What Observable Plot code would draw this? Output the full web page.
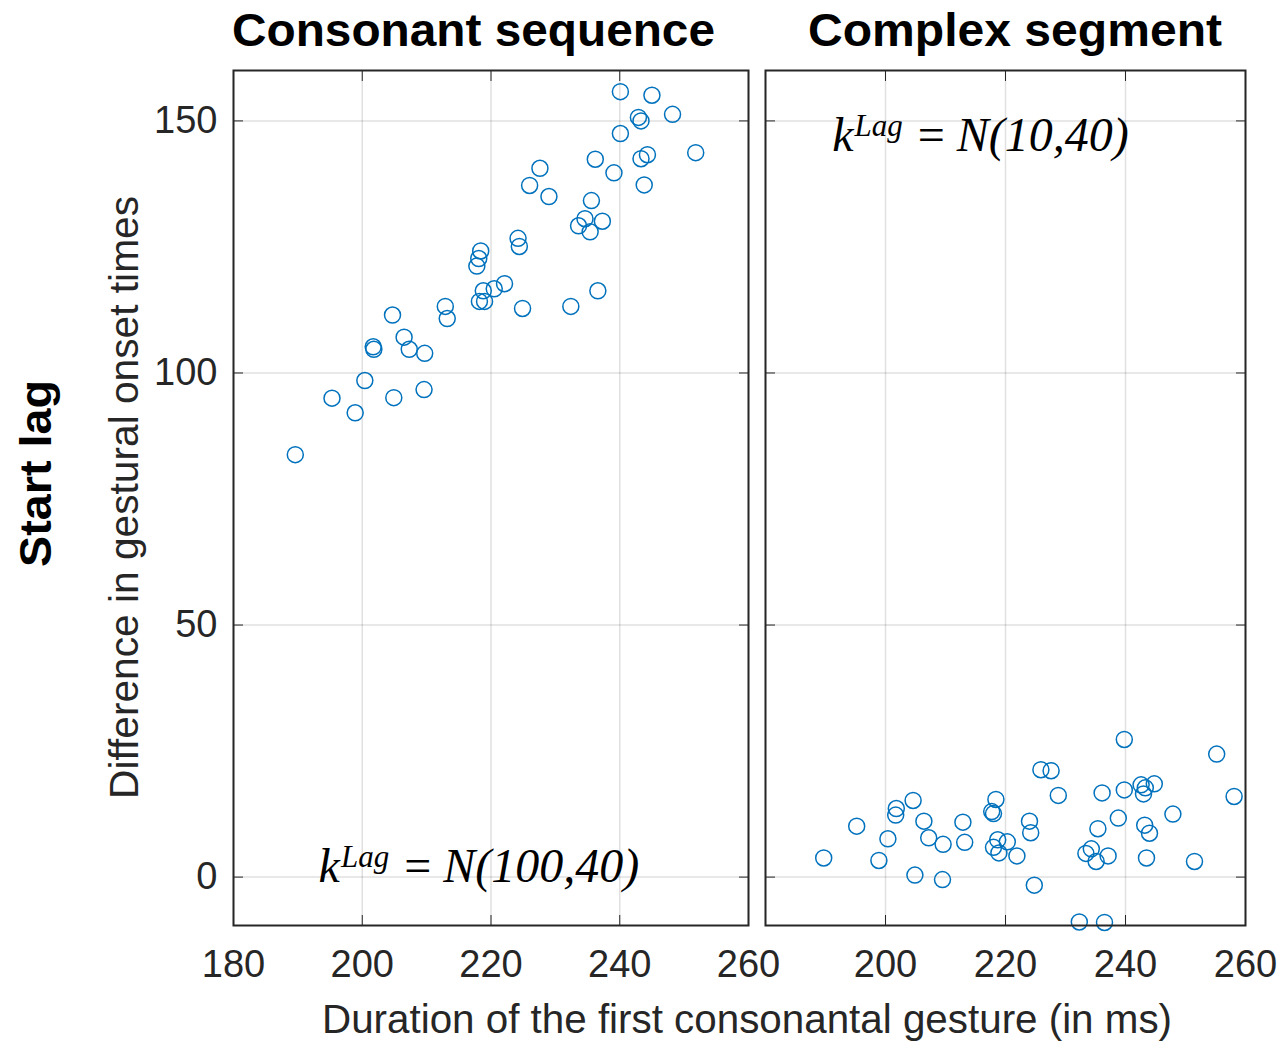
<!DOCTYPE html>
<html>
<head>
<meta charset="utf-8">
<script src="https://cdn.jsdelivr.net/npm/d3@7"></script>
<script src="https://cdn.jsdelivr.net/npm/@observablehq/plot@0.6"></script>
<style>
  body { margin: 0; background: #fff; }
  #wrap { position: relative; width: 1283px; height: 1045px; overflow: hidden; background: #fff; }
  #wrap > svg { position: absolute; }
</style>
</head>
<body>
<div id="wrap"></div>
<script>
// ---------- data ----------
const panelTitles = ["Consonant sequence", "Complex segment"];
const xAxisTitle = "Duration of the first consonantal gesture (in ms)";
const yAxisTitle = "Difference in gestural onset times";
const rowTitle = "Start lag";

const xTicks = [180, 200, 220, 240, 260];
const xTickLabelsRight = [200, 220, 240, 260];
const yTicks = [0, 50, 100, 150];
const xDomain = [180, 260];
const yDomain = [-9.6, 160];

// Consonant sequence panel
const seqDuration = [240.1, 245.0, 248.2, 242.9, 243.3, 240.1, 251.8, 244.3, 243.3, 236.2,
  227.6, 239.1, 226.0, 243.8, 229.0, 235.6, 234.6, 233.6, 237.3, 235.4,
  224.2, 224.4, 218.4, 218.1, 217.8, 222.1, 220.5, 218.8, 236.6, 218.2,
  219.0, 232.4, 224.9, 212.9, 213.2, 204.7, 206.5, 201.7, 201.8, 207.3,
  209.7, 200.4, 195.3, 204.9, 209.6, 198.9, 189.6];
const seqLag = [155.8, 155.1, 151.3, 150.7, 150.0, 147.5, 143.7, 143.3, 142.5, 142.4,
  140.6, 139.7, 137.2, 137.3, 135.0, 134.2, 130.6, 129.2, 130.1, 128.0,
  126.7, 125.1, 124.2, 122.7, 121.2, 117.7, 116.7, 116.3, 116.3, 114.2,
  114.2, 113.2, 112.8, 113.2, 110.8, 111.5, 107.1, 105.2, 104.7, 104.7,
  103.9, 98.5, 95.0, 95.1, 96.7, 92.1, 83.8];

// Complex segment panel
const segDuration = [239.8, 255.2, 225.9, 227.6, 244.8, 242.6, 243.3, 239.8, 243.0, 236.1,
  228.8, 258.1, 218.4, 204.6, 201.8, 201.7, 217.7, 218.0, 247.9, 238.8,
  195.2, 206.4, 212.9, 224.0, 243.2, 235.4, 224.2, 244.0, 200.4, 207.2,
  218.7, 220.3, 213.2, 209.6, 218.0, 218.9, 234.3, 233.4, 237.1, 235.1,
  221.9, 189.7, 198.9, 243.5, 251.5, 204.9, 209.5, 224.8, 232.3, 236.5];
const segLag = [27.3, 24.4, 21.3, 21.1, 18.5, 18.3, 17.7, 17.3, 16.5, 16.7,
  16.2, 16.0, 15.4, 15.2, 13.6, 12.3, 13.0, 12.6, 12.5, 11.7,
  10.1, 11.1, 10.9, 11.1, 10.3, 9.6, 8.8, 8.7, 7.6, 7.8,
  7.4, 7.0, 6.9, 6.5, 5.9, 4.8, 5.6, 4.7, 4.2, 3.1,
  4.2, 3.8, 3.3, 3.8, 3.1, 0.4, -0.5, -1.6, -8.9, -9.0];

// annotation: mean / sd of the lag prior, anchor in data units (start of text, baseline)
const annotMean = [100, 10];
const annotSd = [40, 40];
const annotX = [193.3, 191.2];
const annotY = [-1.0, 144.0];

// ---------- drawing ----------
const wrap = d3.select("#wrap");
const axisColor = "#262626";
const gridStroke = "#000";

function panel(xs, ys, {width, marginLeft, marginRight, labelTicks, showY}) {
  const data = xs.map((x, i) => ({x, y: ys[i]}));
  return Plot.plot({
    width, height: 940,
    marginTop: 10, marginBottom: 75, marginLeft, marginRight,
    style: {fontFamily: "'Liberation Sans', Arial, sans-serif", fontSize: "38px", color: axisColor, background: "none", overflow: "visible"},
    x: {domain: xDomain},
    y: {domain: yDomain},
    marks: [
      Plot.gridX(xTicks, {stroke: gridStroke, strokeOpacity: 0.12, strokeWidth: 1.5}),
      Plot.gridY(yTicks, {stroke: gridStroke, strokeOpacity: 0.12, strokeWidth: 1.5}),
      Plot.dot(data, {x: "x", y: "y", r: 8, stroke: "#0072BD", strokeWidth: 1.5}),
      Plot.axisX(xTicks, {anchor: "bottom", tickSize: -10, tickFormat: () => "", label: null, stroke: axisColor}),
      Plot.axisX(xTicks, {anchor: "top", tickSize: -10, tickFormat: () => "", label: null, stroke: axisColor}),
      Plot.axisX(labelTicks, {anchor: "bottom", tickSize: 0, tickPadding: 25, label: null, fill: axisColor}),
      Plot.axisY(yTicks, {anchor: "left", tickSize: -10, tickFormat: () => "", label: null, stroke: axisColor}),
      Plot.axisY(yTicks, {anchor: "right", tickSize: -10, tickFormat: () => "", label: null, stroke: axisColor}),
      showY ? Plot.axisY(yTicks, {anchor: "left", tickSize: 0, tickPadding: 16, label: null, fill: axisColor}) : null,
      Plot.frame({stroke: axisColor, strokeWidth: 2})
    ]
  });
}

function addAnnotation(plot, i) {
  const sx = plot.scale("x"), sy = plot.scale("y");
  const t = d3.select(plot).append("text")
    .attr("x", sx.apply(annotX[i]))
    .attr("y", sy.apply(annotY[i]))
    .attr("text-anchor", "start")
    .attr("font-family", "'Liberation Serif', 'Times New Roman', serif")
    .attr("font-size", 48)
    .attr("fill", "#000");
  t.append("tspan").attr("font-style", "italic").text("k");
  t.append("tspan").attr("font-style", "italic").attr("font-size", 31).attr("dy", -15).attr("dx", 1).text("Lag");
  t.append("tspan").attr("dy", 15).attr("dx", 15).text("=");
  t.append("tspan").attr("font-style", "italic").attr("dx", 12).text(`N(${annotMean[i]},${annotSd[i]})`);
}

const left = panel(seqDuration, seqLag, {width: 610, marginLeft: 83, marginRight: 12, labelTicks: xTicks, showY: true});
left.style.left = "150px"; left.style.top = "60px";
addAnnotation(left, 0);

const right = panel(segDuration, segLag, {width: 526, marginLeft: 8, marginRight: 38, labelTicks: xTickLabelsRight, showY: false});
right.style.left = "757px"; right.style.top = "60px";
addAnnotation(right, 1);

wrap.node().appendChild(left);
wrap.node().appendChild(right);

// overlay texts
const ov = wrap.append("svg").attr("width", 1283).attr("height", 1045)
  .style("left", "0px").style("top", "0px").style("pointer-events", "none")
  .attr("font-family", "'Liberation Sans', Arial, sans-serif");

ov.append("text").attr("x", 232).attr("y", 46).attr("font-size", 47).attr("font-weight", "bold")
  .attr("textLength", 483).attr("lengthAdjust", "spacingAndGlyphs").text(panelTitles[0]);
ov.append("text").attr("x", 808).attr("y", 46).attr("font-size", 47).attr("font-weight", "bold")
  .attr("textLength", 414).attr("lengthAdjust", "spacingAndGlyphs").text(panelTitles[1]);
ov.append("text").attr("x", 322).attr("y", 1033).attr("font-size", 41).attr("fill", axisColor)
  .attr("textLength", 850).attr("lengthAdjust", "spacingAndGlyphs").text(xAxisTitle);
ov.append("text").attr("transform", "translate(138,497.5) rotate(-90)").attr("text-anchor", "middle")
  .attr("font-size", 41).attr("fill", axisColor)
  .attr("textLength", 603).attr("lengthAdjust", "spacingAndGlyphs").text(yAxisTitle);
ov.append("text").attr("transform", "translate(51,473.5) rotate(-90)").attr("text-anchor", "middle")
  .attr("font-size", 45).attr("font-weight", "bold").attr("fill", "#000")
  .attr("textLength", 187).attr("lengthAdjust", "spacingAndGlyphs").text(rowTitle);
</script>
</body>
</html>
